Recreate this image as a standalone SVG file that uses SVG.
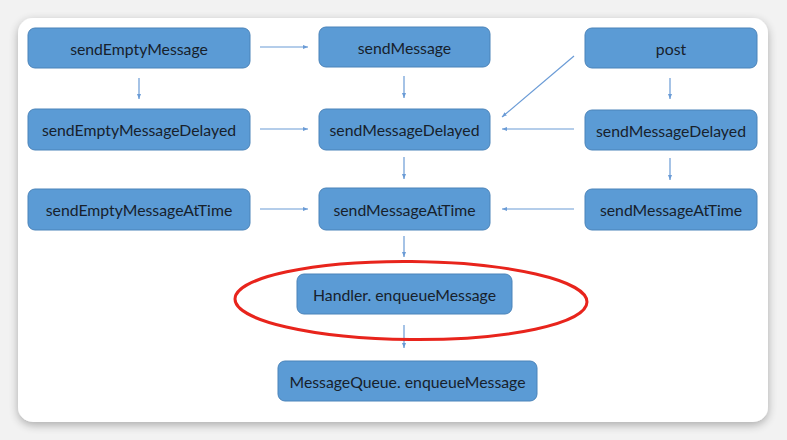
<svg xmlns="http://www.w3.org/2000/svg" width="787" height="440" viewBox="0 0 787 440">
<defs>
<filter id="sh" x="-5%" y="-5%" width="110%" height="115%">
<feGaussianBlur in="SourceAlpha" stdDeviation="5"/>
<feOffset dx="0" dy="3"/>
<feComponentTransfer><feFuncA type="linear" slope="0.3"/></feComponentTransfer>
<feMerge><feMergeNode/><feMergeNode in="SourceGraphic"/></feMerge>
</filter>
<marker id="ah" viewBox="0 0 10 10" refX="10" refY="5" markerWidth="5" markerHeight="5" orient="auto" markerUnits="userSpaceOnUse">
<path d="M0,1 L10,5 L0,9 Z" fill="#6a9bd6"/>
</marker>
</defs>
<style>
.box{fill:#5b9bd5;stroke:#4a83b9;stroke-width:1}
.t{font-family:Lato,"Liberation Sans",sans-serif;font-size:15.8px;fill:#17212c;text-anchor:middle;dominant-baseline:central}
.c{stroke:#6a9bd6;stroke-width:1.2;fill:none;marker-end:url(#ah)}
</style>
<rect width="787" height="440" fill="#f2f2f2"/>
<rect x="18" y="18" width="750" height="404" rx="15" fill="#ffffff" filter="url(#sh)"/>
<g id="connectors">
<line class="c" x1="260" y1="47" x2="308" y2="47"/>
<line class="c" x1="139" y1="78" x2="139" y2="99"/>
<line class="c" x1="404" y1="76" x2="404" y2="98"/>
<line class="c" x1="670" y1="78" x2="670" y2="99"/>
<line class="c" x1="574" y1="56" x2="502" y2="117"/>
<line class="c" x1="574" y1="129" x2="502" y2="129"/>
<line class="c" x1="260" y1="129" x2="308" y2="129"/>
<line class="c" x1="404" y1="157" x2="404" y2="179"/>
<line class="c" x1="670" y1="158" x2="670" y2="180"/>
<line class="c" x1="260" y1="209" x2="308" y2="209"/>
<line class="c" x1="574" y1="209" x2="502" y2="209"/>
<line class="c" x1="404" y1="236" x2="404" y2="257"/>
<line class="c" x1="404" y1="325" x2="404" y2="348"/>
</g>
<g id="n1"><rect class="box" x="28" y="28" width="222" height="40" rx="7"/><text class="t" x="139" y="48">sendEmptyMessage</text></g>
<g id="n2"><rect class="box" x="319" y="27" width="171" height="40" rx="7"/><text class="t" x="404.5" y="47">sendMessage</text></g>
<g id="n3"><rect class="box" x="585" y="28" width="172" height="40" rx="7"/><text class="t" x="671" y="48">post</text></g>
<g id="n4"><rect class="box" x="28" y="109" width="222" height="41" rx="7"/><text class="t" x="139" y="129.5">sendEmptyMessageDelayed</text></g>
<g id="n5"><rect class="box" x="319" y="109" width="171" height="41" rx="7"/><text class="t" x="404.5" y="129.5">sendMessageDelayed</text></g>
<g id="n6"><rect class="box" x="585" y="110" width="172" height="40" rx="7"/><text class="t" x="671" y="130">sendMessageDelayed</text></g>
<g id="n7"><rect class="box" x="28" y="189" width="222" height="41" rx="7"/><text class="t" x="139" y="209.5">sendEmptyMessageAtTime</text></g>
<g id="n8"><rect class="box" x="319" y="188" width="171" height="42" rx="7"/><text class="t" x="404.5" y="209">sendMessageAtTime</text></g>
<g id="n9"><rect class="box" x="585" y="189" width="172" height="41" rx="7"/><text class="t" x="671" y="209.5">sendMessageAtTime</text></g>
<g id="n10"><rect class="box" x="297" y="274" width="215" height="40" rx="7"/><text class="t" x="404.5" y="294">Handler. enqueueMessage</text></g>
<g id="n11"><rect class="box" x="278" y="361" width="259" height="40" rx="7"/><text class="t" x="407.5" y="381">MessageQueue. enqueueMessage</text></g>
<g id="highlight"><ellipse cx="411" cy="300.5" rx="176" ry="39" fill="none" stroke="#e8241c" stroke-width="3" transform="rotate(0.5 411 300.5)"/></g>
</svg>
